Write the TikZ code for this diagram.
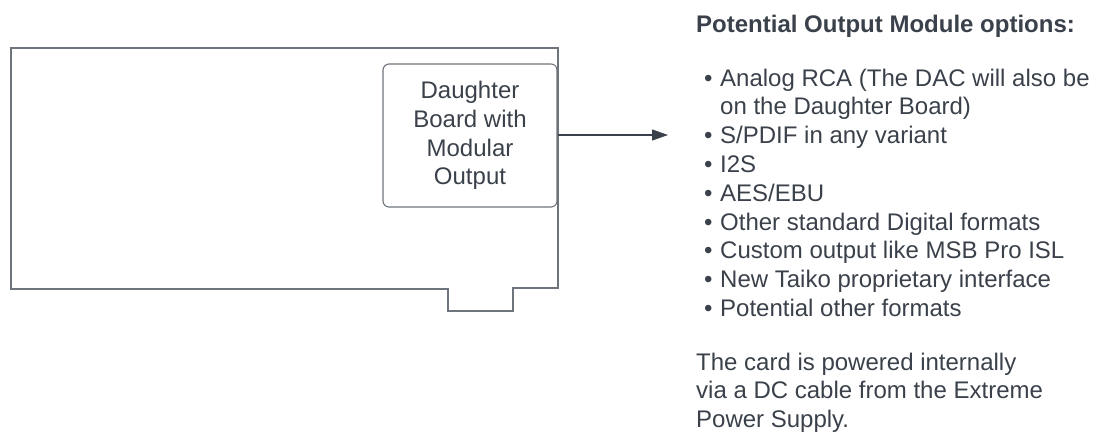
\documentclass[tikz,border=0pt]{standalone}
\usepackage{fontspec}
\setmainfont{Liberation Sans}
\usetikzlibrary{arrows.meta}
\definecolor{txt}{HTML}{3A414A}
\definecolor{edge}{HTML}{6E747C}
\tikzset{
  every node/.style={text=txt},
  board/.style={draw=edge, line width=1.4pt},
  dbox/.style={draw=edge, line width=1.1pt, rounded corners=6pt, minimum width=174pt, minimum height=143pt, align=center, inner sep=0pt, font=\fontsize{24}{28.6}\selectfont},
  conn/.style={draw=txt, line width=1.2pt, -{Triangle[length=16pt,width=11pt]}},
  txtbox/.style={inner sep=0pt, anchor=base west, font=\fontsize{24}{28.8}\selectfont}
}
\begin{document}
\begin{tikzpicture}[x=1pt,y=-1pt]
\useasboundingbox (0,0) rectangle (1098,434);
% board outline
\draw[board] (11,48) -- (558,48) -- (558,288) -- (513,288) -- (513,311) -- (448,311) -- (448,289) -- (11,289) -- cycle;
% daughter board
\node[dbox] (dob) at (470,135.5) {Daughter\\Board with\\Modular\\Output};
\coordinate (tip) at (668,135);
\draw[conn] (dob.east |- tip) -- (tip);
% title
\node[txtbox, font=\fontsize{24}{28.8}\selectfont\bfseries] (title) at (696,32) {Potential Output Module options:};
% list
\node[txtbox] (list) at (704,86) {\begin{tabular}[t]{@{}l@{\hspace{7.6pt}}l@{}}
\textbullet & Analog RCA (The DAC will also be\\
 & on the Daughter Board)\\
\textbullet & S/PDIF in any variant\\
\textbullet & I2S\\
\textbullet & AES/EBU\\
\textbullet & Other standard Digital formats\\
\textbullet & Custom output like MSB Pro ISL\\
\textbullet & New Taiko proprietary interface\\
\textbullet & Potential other formats
\end{tabular}};
% note
\node[txtbox] (note) at (696,370) {\begin{tabular}[t]{@{}l@{}}
The card is powered internally\\
via a DC cable from the Extreme\\
Power Supply.
\end{tabular}};
\end{tikzpicture}
\end{document}
